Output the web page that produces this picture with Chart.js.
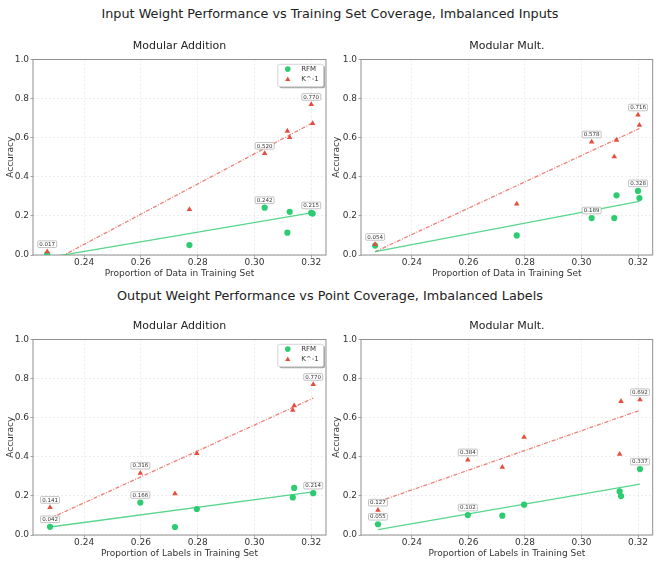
<!DOCTYPE html>
<html><head><meta charset="utf-8">
<script src="https://cdn.jsdelivr.net/npm/chart.js@4"></script>
<style>
html,body{margin:0;padding:0;background:#fff;}
body{width:660px;height:564px;position:relative;overflow:hidden;font-family:'DejaVu Sans';}
.sup{position:absolute;left:0;width:660px;text-align:center;font-size:12.8px;color:#222;line-height:16px;white-space:nowrap;}
canvas{position:absolute;}
</style></head><body>
<div class="sup" style="top:5.5px">Input Weight Performance vs Training Set Coverage, Imbalanced Inputs</div>
<div class="sup" style="top:288px">Output Weight Performance vs Point Coverage, Imbalanced Labels</div>
<canvas id="c0" width="330" height="250" style="left:0;top:30px"></canvas>
<canvas id="c1" width="330" height="250" style="left:330px;top:30px"></canvas>
<canvas id="c2" width="330" height="250" style="left:0;top:310px"></canvas>
<canvas id="c3" width="330" height="250" style="left:330px;top:310px"></canvas>
<script>
// ---------------- data ----------------
const seriesNames = ['RFM', 'K^-1'];
const panelTitles = ['Modular Addition', 'Modular Mult.', 'Modular Addition', 'Modular Mult.'];
const xAxisTitles = ['Proportion of Data in Training Set', 'Proportion of Data in Training Set',
                     'Proportion of Labels in Training Set', 'Proportion of Labels in Training Set'];
const yAxisTitle = 'Accuracy';
const xTicks = [0.24, 0.26, 0.28, 0.30, 0.32];
const yTicks = [0.0, 0.2, 0.4, 0.6, 0.8, 1.0];

// x positions (shared within each row)
const xInputs = [0.2270, 0.2771, 0.3036, 0.3116, 0.3124, 0.3200, 0.3205];
const xLabels = [0.2280, 0.2598, 0.2720, 0.2797, 0.3135, 0.3140, 0.3207];

// top-left: input weights, modular addition
const rfmInAdd = [0.005, 0.051, 0.242, 0.114, 0.221, 0.215, 0.212];
const kInAdd   = [0.017, 0.233, 0.520, 0.634, 0.601, 0.770, 0.673];
// top-right: input weights, modular mult.
const rfmInMul = [0.048, 0.100, 0.189, 0.189, 0.305, 0.328, 0.291];
const kInMul   = [0.054, 0.261, 0.578, 0.503, 0.588, 0.716, 0.664];
// bottom-left: output weights, modular addition
const rfmOutAdd = [0.042, 0.166, 0.041, 0.133, 0.192, 0.241, 0.214];
const kOutAdd   = [0.141, 0.316, 0.211, 0.417, 0.639, 0.662, 0.770];
// bottom-right: output weights, modular mult.
const rfmOutMul = [0.055, 0.102, 0.099, 0.155, 0.223, 0.199, 0.337];
const kOutMul   = [0.127, 0.384, 0.347, 0.500, 0.413, 0.684, 0.692];

// trend line end points
const fitXInputs = [0.2270, 0.3205];
const fitXLabels = [0.2280, 0.3207];
const fitRfmInAdd = [-0.014, 0.217];
const fitKInAdd   = [-0.046, 0.676];
const fitRfmInMul = [0.017, 0.274];
const fitKInMul   = [0.017, 0.647];
const fitRfmOutAdd = [0.041, 0.221];
const fitKOutAdd   = [0.085, 0.700];
const fitRfmOutMul = [0.027, 0.260];
const fitKOutMul   = [0.170, 0.638];

// indices of annotated points
const annTopRfm = [2, 5];
const annTopK   = [0, 2, 5];
const annBotRfm = [0, 1, 6];
const annBotK   = [0, 1, 6];

// ---------------- styling ----------------
const GREEN = '#2ecc71', RED = '#e74c3c';
const FONT = "'DejaVu Sans'";
Chart.defaults.font.family = FONT;
Chart.defaults.color = '#333';

const panels = [
  {id:'c0', x:xInputs, rfm:rfmInAdd, k:kInAdd, fx:fitXInputs, frfm:fitRfmInAdd, fk:fitKInAdd, aR:annTopRfm, aK:annTopK, legend:true,  yw:33, pr:2.5, ytp:5.3},
  {id:'c1', x:xInputs, rfm:rfmInMul, k:kInMul, fx:fitXInputs, frfm:fitRfmInMul, fk:fitKInMul, aR:annTopRfm, aK:annTopK, legend:false, yw:31, pr:7.3, ytp:1.3},
  {id:'c2', x:xLabels, rfm:rfmOutAdd, k:kOutAdd, fx:fitXLabels, frfm:fitRfmOutAdd, fk:fitKOutAdd, aR:annBotRfm, aK:annBotK, legend:true,  yw:33, pr:2.5, ytp:5.3},
  {id:'c3', x:xLabels, rfm:rfmOutMul, k:kOutMul, fx:fitXLabels, frfm:fitRfmOutMul, fk:fitKOutMul, aR:annBotRfm, aK:annBotK, legend:false, yw:31, pr:7.3, ytp:1.3}
];

function roundRect(ctx, x, y, w, h, r) {
  ctx.beginPath();
  ctx.moveTo(x + r, y);
  ctx.lineTo(x + w - r, y); ctx.arcTo(x + w, y, x + w, y + r, r);
  ctx.lineTo(x + w, y + h - r); ctx.arcTo(x + w, y + h, x + w - r, y + h, r);
  ctx.lineTo(x + r, y + h); ctx.arcTo(x, y + h, x, y + h - r, r);
  ctx.lineTo(x, y + r); ctx.arcTo(x, y, x + r, y, r);
  ctx.closePath();
}

const decor = {
  id: 'decor',
  beforeDatasetsDraw(chart) {
    const {ctx, chartArea: a} = chart;
    ctx.save();
    ctx.strokeStyle = '#8f8f8f'; ctx.lineWidth = 1; ctx.setLineDash([]);
    ctx.strokeRect(a.left, a.top, a.right - a.left, a.bottom - a.top);
    ctx.restore();
  },
  afterDatasetsDraw(chart, args, opts) {
    const {ctx, chartArea: a} = chart;
    const xs = chart.scales.x, ys = chart.scales.y;
    const p = opts.panel;
    ctx.save();
    // title
    ctx.fillStyle = '#222';
    ctx.font = '11px ' + FONT;
    ctx.textAlign = 'center'; ctx.textBaseline = 'middle';
    ctx.fillText(opts.title, (a.left + a.right) / 2, 16.5);
    // annotations
    const drawAnn = (vals, idxs) => {
      idxs.forEach(i => {
        const px = xs.getPixelForValue(p.x[i]);
        const py = ys.getPixelForValue(vals[i]) - 7.5;
        const txt = vals[i].toFixed(3);
        ctx.font = '5.5px ' + FONT;
        const w = ctx.measureText(txt).width + 3.2;
        const h = 6.6;
        roundRect(ctx, px - w / 2, py - h / 2, w, h, 1);
        ctx.fillStyle = 'rgba(255,255,255,0.85)'; ctx.fill();
        ctx.strokeStyle = '#9a9a9a'; ctx.lineWidth = 0.6; ctx.stroke();
        ctx.fillStyle = '#333'; ctx.textAlign = 'center'; ctx.textBaseline = 'middle';
        ctx.fillText(txt, px, py + 0.3);
      });
    };
    drawAnn(p.rfm, p.aR);
    drawAnn(p.k, p.aK);
    // legend
    if (p.legend) {
      const bx = a.right - 48.2, by = a.top + 4.8, bw = 45.7, bh = 22.4;
      ctx.save();
      ctx.fillStyle = 'rgba(0,0,0,0.35)';
      roundRect(ctx, bx + 1.5, by + 1.5, bw, bh, 2); ctx.fill();
      ctx.restore();
      roundRect(ctx, bx, by, bw, bh, 2);
      ctx.fillStyle = '#fff'; ctx.fill();
      ctx.strokeStyle = '#cccccc'; ctx.lineWidth = 0.8; ctx.stroke();
      const mx = a.right - 38.2, tx = a.right - 24.8;
      const r1 = a.top + 9.6, r2 = a.top + 19.9;
      ctx.fillStyle = GREEN; ctx.beginPath(); ctx.arc(mx, r1, 2.8, 0, Math.PI * 2); ctx.fill();
      ctx.fillStyle = RED;
      ctx.beginPath();
      ctx.moveTo(mx, r2 - 3); ctx.lineTo(mx + 2.6, r2 + 1.5); ctx.lineTo(mx - 2.6, r2 + 1.5); ctx.closePath(); ctx.fill();
      ctx.fillStyle = '#333'; ctx.font = '7px ' + FONT; ctx.textAlign = 'left'; ctx.textBaseline = 'middle';
      ctx.fillText(seriesNames[0], tx, r1);
      ctx.fillText(seriesNames[1], tx, r2);
    }
    ctx.restore();
  }
};

panels.forEach((p, pi) => {
  const pts = (xs, ys) => xs.map((x, i) => ({x: x, y: ys[i]}));
  new Chart(document.getElementById(p.id), {
    type: 'scatter',
    data: {
      datasets: [
        {type: 'line', label: seriesNames[0] + ' fit', data: pts(p.fx, p.frfm), borderColor: 'rgba(46,204,113,0.8)',
         borderWidth: 1.3, pointRadius: 0, fill: false, tension: 0, clip: 0},
        {type: 'line', label: seriesNames[1] + ' fit', data: pts(p.fx, p.fk), borderColor: 'rgba(231,76,60,0.7)',
         borderWidth: 1.3, borderDash: [4, 1.5, 1, 1.5], pointRadius: 0, fill: false, tension: 0, clip: 0},
        {label: seriesNames[1], data: pts(p.x, p.k), pointStyle: 'triangle', pointRadius: 3.2, backgroundColor: RED,
         borderWidth: 0, clip: 0},
        {label: seriesNames[0], data: pts(p.x, p.rfm), pointStyle: 'circle', pointRadius: 3.1, backgroundColor: GREEN,
         borderWidth: 0, clip: 0}
      ]
    },
    options: {
      responsive: false, animation: false, devicePixelRatio: 1,
      layout: {padding: {left: 0, right: p.pr, top: 29.5, bottom: 0}},
      plugins: {legend: {display: false}, tooltip: {enabled: false},
                decor: {panel: p, title: panelTitles[pi]}},
      scales: {
        x: {
          type: 'linear', min: 0.2220, max: 0.3252,
          afterBuildTicks: s => { s.ticks = xTicks.map(v => ({value: v})); },
          afterFit: s => { s.height = 25; },
          ticks: {callback: v => v.toFixed(2), autoSkip: false, maxRotation: 0, padding: 0.5,
                  font: {size: 9, lineHeight: 1}, color: '#333'},
          grid: {color: 'rgba(0,0,0,0.09)', lineWidth: 0.8, drawTicks: true, tickLength: 2.5,
                 tickColor: '#8f8f8f', tickWidth: 0.8, tickBorderDash: []},
          border: {display: false, dash: [2, 2]},
          title: {display: true, text: xAxisTitles[pi], font: {size: 9}, color: '#333', padding: {top: 0, bottom: 1.3}}
        },
        y: {
          type: 'linear', min: 0, max: 1,
          afterBuildTicks: s => { s.ticks = yTicks.map(v => ({value: v})); },
          afterFit: s => { s.width = p.yw; },
          ticks: {callback: v => v.toFixed(1), autoSkip: false, padding: 1.5, font: {size: 9}, color: '#333'},
          grid: {color: 'rgba(0,0,0,0.09)', lineWidth: 0.8, drawTicks: true, tickLength: 2.5,
                 tickColor: '#8f8f8f', tickWidth: 0.8, tickBorderDash: []},
          border: {display: false, dash: [2, 2]},
          title: {display: true, text: yAxisTitle, font: {size: 9}, color: '#333', padding: {top: p.ytp, bottom: 0}}
        }
      }
    },
    plugins: [decor]
  });
});
</script>
</body></html>
